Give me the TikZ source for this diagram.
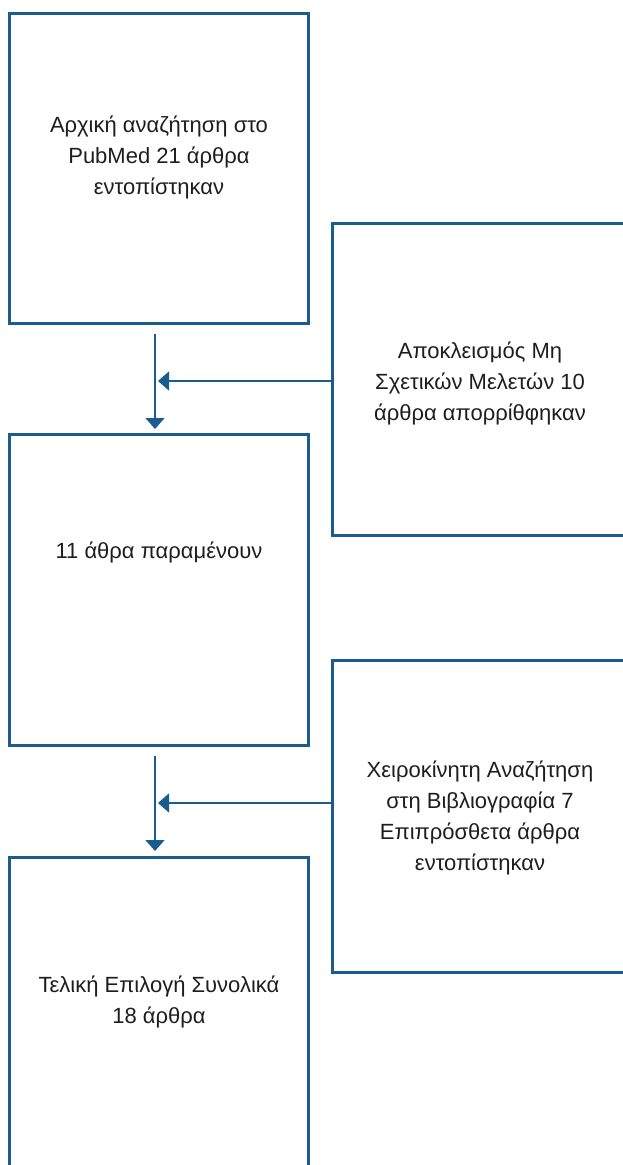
\documentclass[tikz,border=0pt]{standalone}
\usepackage{fontspec}
\setmainfont{Liberation Sans}
\usetikzlibrary{arrows.meta}
\definecolor{boxblue}{HTML}{1A5C8E}
\definecolor{txt}{HTML}{1E1E1E}
\begin{document}
\begin{tikzpicture}[x=1pt,y=-1pt,
  boxline/.style={draw=boxblue,line width=3pt},
  lbl/.style={align=center,text=txt,font=\fontsize{22}{31}\selectfont,inner sep=0pt},
  conn/.style={draw=boxblue,line width=1.5pt,-{Triangle[length=11pt,width=19pt]}}]
\useasboundingbox (0,0) rectangle (623,1165);
\fill[white] (0,0) rectangle (623,1165);
% boxes
\path[boxline] (9.5,13) rectangle (308.5,323);
\path[boxline] (9.5,434) rectangle (308.5,745);
\path[boxline] (9.5,857) rectangle (308.5,1185);
\path[boxline] (332,223) rectangle (650,535);
\path[boxline] (332,660) rectangle (650,972);
% text nodes
\node[lbl] (t1) at (159,157) {Αρχική αναζήτηση στο\\PubMed 21 άρθρα\\εντοπίστηκαν};
\node[lbl] (t2) at (159,552) {11 άθρα παραμένουν};
\node[lbl] (t3) at (159,1002) {Τελική Επιλογή Συνολικά\\18 άρθρα};
\node[lbl] (r1) at (480,383) {Αποκλεισμός Μη\\Σχετικών Μελετών 10\\άρθρα απορρίθφηκαν};
\node[lbl] (r2) at (480,818) {Χειροκίνητη Αναζήτηση\\στη Βιβλιογραφία 7\\Επιπρόσθετα άρθρα\\εντοπίστηκαν};
% connector endpoints
\coordinate (v1s) at (155,334);
\coordinate (v1e) at (155,429);
\coordinate (h1s) at (332,381);
\coordinate (h1e) at (158,381);
\coordinate (v2s) at (155,756);
\coordinate (v2e) at (155,851);
\coordinate (h2s) at (332,803);
\coordinate (h2e) at (158,803);
\draw[conn] (v1s) -- (v1e);
\draw[conn] (h1s) -- (h1e);
\draw[conn] (v2s) -- (v2e);
\draw[conn] (h2s) -- (h2e);
\end{tikzpicture}
\end{document}
